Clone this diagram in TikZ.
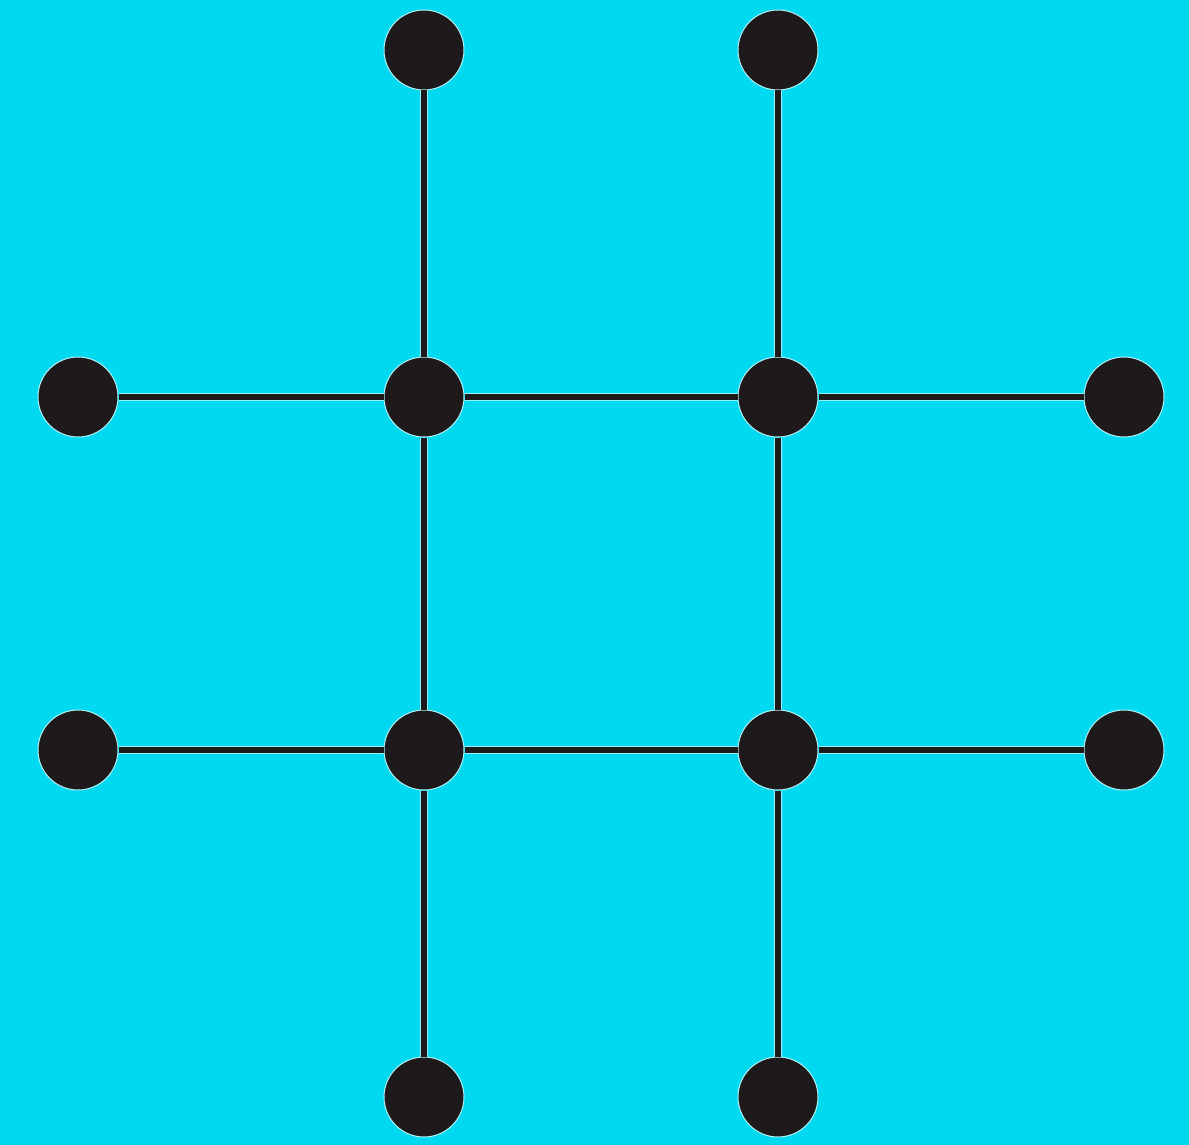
\documentclass[tikz,border=0pt]{standalone}
\definecolor{bg}{HTML}{00D9EF}
\definecolor{dot}{HTML}{1E1A1B}
\begin{document}
\begin{tikzpicture}[x=1pt,y=-1pt,
  dotnode/.style={circle,fill=dot,draw=white!70!bg,line width=1pt,minimum size=80pt,inner sep=0pt},
  link/.style={draw=white!60!bg,line width=0.9pt,double=dot,double distance=6.5pt}]
\fill[bg] (0,0) rectangle (1189,1145);
\useasboundingbox (0,0) rectangle (1189,1145);
% grid nodes
\node[dotnode] (t1) at (424,50) {};
\node[dotnode] (t2) at (778,50) {};
\node[dotnode] (l1) at (78,397) {};
\node[dotnode] (m11) at (424,397) {};
\node[dotnode] (m12) at (778,397) {};
\node[dotnode] (r1) at (1124,397) {};
\node[dotnode] (l2) at (78,750) {};
\node[dotnode] (m21) at (424,750) {};
\node[dotnode] (m22) at (778,750) {};
\node[dotnode] (r2) at (1124,750) {};
\node[dotnode] (b1) at (424,1097) {};
\node[dotnode] (b2) at (778,1097) {};
% connectors
\draw[link] (t1) -- (m11);
\draw[link] (m11) -- (m21);
\draw[link] (m21) -- (b1);
\draw[link] (t2) -- (m12);
\draw[link] (m12) -- (m22);
\draw[link] (m22) -- (b2);
\draw[link] (l1) -- (m11);
\draw[link] (m11) -- (m12);
\draw[link] (m12) -- (r1);
\draw[link] (l2) -- (m21);
\draw[link] (m21) -- (m22);
\draw[link] (m22) -- (r2);
\end{tikzpicture}
\end{document}
